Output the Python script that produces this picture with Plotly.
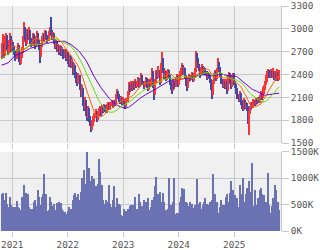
import plotly.graph_objects as go
import pandas as pd

# weekly closes before the visible window (for moving-average warm-up)
prior_close = [2600, 2650, 2620, 2700, 2680, 2720, 2650, 2700, 2750, 2700, 2680, 2720, 2650, 2600, 2620, 2550, 2500, 2480, 2450,
               2200, 2000, 2100, 2150, 2250, 2300,
               2350, 2400, 2450, 2500, 2480, 2550, 2600, 2580, 2550, 2600, 2620, 2580, 2550, 2600,
               2620, 2650, 2600, 2680, 2700, 2650, 2620, 2680, 2700, 2650, 2680, 2720]

open_ = [2660, 2700, 2780, 2650, 2850, 2900, 2760, 2700, 2820, 2880, 2740,
         2800, 2750, 2700, 2620, 2680, 2780, 2600, 2560,
         2640, 2700, 2850, 3000, 2900,
         2820, 2950, 2880, 2980, 2850,
         2800, 2900, 2850, 2780, 2870, 2920, 2830,
         2760, 2650, 2780, 2870,
         2900, 2880, 2950, 2900, 2860, 2930,
         2980, 2950, 2900,
         2920, 2850, 2780, 2820, 2720, 2760,
         2700, 2750, 2680, 2720, 2640, 2700,
         2620, 2680, 2600, 2560, 2620,
         2520, 2550, 2450, 2500, 2400,
         2350, 2300, 2380, 2250, 2150,
         2200, 2050, 1980, 2050, 1900,
         1850, 1950, 1820, 1780, 1700, 1750,
         1800, 1850, 1900, 1820, 1880,
         1920, 1950, 1900, 1960, 1930,
         1980, 1950, 1920, 1980, 2000,
         1960, 2000, 2030, 1990, 2040,
         2010, 2100, 2180, 2120, 2080,
         2050, 2080, 2030, 2060, 2020,
         1980, 2050, 2150, 2250, 2200,
         2260, 2220, 2280, 2240, 2300,
         2260, 2280, 2330, 2250, 2300,
         2380, 2300, 2250, 2280, 2330,
         2260, 2220, 2300, 2270, 2320,
         2430, 2250, 2150, 2300, 2420,
         2380, 2450, 2300, 2500,
         2600, 2450, 2380, 2420, 2350,
         2400, 2440, 2380, 2300, 2250,
         2200, 2300, 2250, 2330, 2380,
         2280, 2350, 2400, 2450, 2520,
         2420, 2470, 2380, 2300, 2240,
         2320, 2380, 2350, 2400, 2330,
         2380, 2450, 2650, 2600, 2520,
         2480, 2400, 2460, 2500, 2430,
         2470, 2420, 2360, 2400, 2380,
         2320, 2250, 2150, 2300,
         2380, 2420, 2350, 2450, 2550,
         2480, 2400, 2320, 2260, 2300,
         2250, 2300, 2200, 2350, 2400,
         2300, 2250, 2350, 2400, 2300,
         2260, 2200, 2120, 2080, 2150,
         2050, 2000, 1950, 2050, 1980,
         2000, 1950, 1720, 1900,
         1960, 2000, 1980, 2050, 2020,
         2060, 2040, 2080, 2050, 2100,
         2130, 2100, 2180, 2220, 2280,
         2330, 2380, 2420, 2380, 2400,
         2380, 2410, 2360, 2390, 2340, 2400, 2340]

close = [2700, 2780, 2650, 2850, 2900, 2760, 2700, 2820, 2880, 2740, 2800,
         2750, 2700, 2620, 2680, 2780, 2600, 2560, 2640,
         2700, 2850, 3000, 2900, 2820,
         2950, 2880, 2980, 2850, 2800,
         2900, 2850, 2780, 2870, 2920, 2830, 2760,
         2650, 2780, 2870, 2900,
         2880, 2950, 2900, 2860, 2930, 2980,
         2950, 2900, 2920,
         2850, 2780, 2820, 2720, 2760, 2700,
         2750, 2680, 2720, 2640, 2700, 2620,
         2680, 2600, 2560, 2620, 2520,
         2550, 2450, 2500, 2400, 2350,
         2300, 2380, 2250, 2150, 2200,
         2050, 1980, 2050, 1900, 1850,
         1950, 1820, 1780, 1700, 1750, 1800,
         1850, 1900, 1820, 1880, 1920,
         1950, 1900, 1960, 1930, 1980,
         1950, 1920, 1980, 2000, 1960,
         2000, 2030, 1990, 2040, 2010,
         2100, 2180, 2120, 2080, 2050,
         2080, 2030, 2060, 2020, 1980,
         2050, 2150, 2250, 2200, 2260,
         2220, 2280, 2240, 2300, 2260,
         2280, 2330, 2250, 2300, 2380,
         2300, 2250, 2280, 2330, 2260,
         2220, 2300, 2270, 2320, 2430,
         2250, 2150, 2300, 2420, 2380,
         2450, 2300, 2500, 2600,
         2450, 2380, 2420, 2350, 2400,
         2440, 2380, 2300, 2250, 2200,
         2300, 2250, 2330, 2380, 2280,
         2350, 2400, 2450, 2520, 2420,
         2470, 2380, 2300, 2240, 2320,
         2380, 2350, 2400, 2330, 2380,
         2450, 2650, 2600, 2520, 2480,
         2400, 2460, 2500, 2430, 2470,
         2420, 2360, 2400, 2380, 2320,
         2250, 2150, 2300, 2380,
         2420, 2350, 2450, 2550, 2480,
         2400, 2320, 2260, 2300, 2250,
         2300, 2200, 2350, 2400, 2300,
         2250, 2350, 2400, 2300, 2260,
         2200, 2120, 2080, 2150, 2050,
         2000, 1950, 2050, 1980, 2000,
         1950, 1800, 1900, 1960,
         2000, 1980, 2050, 2020, 2060,
         2040, 2080, 2050, 2100, 2130,
         2100, 2180, 2220, 2280, 2330,
         2380, 2420, 2380, 2400, 2380,
         2410, 2360, 2390, 2340, 2400, 2340, 2380]

high = [2810, 2930, 2800, 2900, 2950, 2920, 2790, 2860, 2940, 2900, 2850,
        2830, 2780, 2720, 2730, 2820, 2790, 2630, 2700,
        2760, 2900, 3085, 3020, 2930,
        3000, 2990, 3020, 2990, 2880,
        2940, 2930, 2870, 2910, 2970, 2940, 2850,
        2780, 2820, 2900, 2950,
        2930, 2990, 2970, 2920, 2970, 3030,
        3150, 2980, 2960,
        2940, 2870, 2860, 2840, 2800, 2780,
        2790, 2770, 2760, 2740, 2740, 2720,
        2720, 2700, 2640, 2660, 2640,
        2600, 2570, 2550, 2520, 2430,
        2390, 2420, 2400, 2280, 2260,
        2220, 2080, 2100, 2070, 1940,
        1990, 1960, 1850, 1800, 1800, 1850,
        1890, 1950, 1920, 1920, 1960,
        1990, 1970, 2000, 1990, 2010,
        2000, 1970, 2010, 2040, 2020,
        2040, 2060, 2050, 2070, 2060,
        2140, 2210, 2190, 2140, 2100,
        2120, 2100, 2100, 2080, 2040,
        2090, 2190, 2300, 2280, 2310,
        2290, 2320, 2300, 2340, 2320,
        2320, 2370, 2350, 2340, 2420,
        2400, 2320, 2320, 2370, 2350,
        2280, 2340, 2330, 2360, 2490,
        2440, 2270, 2340, 2460, 2450,
        2510, 2460, 2550, 2700,
        2620, 2480, 2460, 2440, 2450,
        2470, 2460, 2400, 2320, 2270,
        2340, 2320, 2370, 2410, 2400,
        2390, 2440, 2490, 2550, 2530,
        2500, 2490, 2400, 2320, 2360,
        2410, 2400, 2430, 2420, 2420,
        2490, 2710, 2680, 2620, 2540,
        2500, 2500, 2540, 2510, 2500,
        2490, 2440, 2430, 2420, 2400,
        2340, 2270, 2330, 2420,
        2460, 2440, 2490, 2620, 2570,
        2500, 2420, 2340, 2340, 2320,
        2340, 2320, 2390, 2430, 2420,
        2320, 2400, 2420, 2420, 2320,
        2280, 2220, 2150, 2190, 2160,
        2070, 2020, 2090, 2070, 2040,
        2030, 1980, 1925, 1990,
        2040, 2030, 2080, 2070, 2090,
        2090, 2110, 2100, 2130, 2180,
        2160, 2230, 2260, 2320, 2400,
        2440, 2470, 2460, 2470, 2440,
        2480, 2450, 2440, 2420, 2470, 2430, 2460]

low = [2610, 2680, 2620, 2640, 2800, 2720, 2650, 2680, 2790, 2700, 2700,
       2700, 2650, 2580, 2600, 2660, 2560, 2530, 2540,
       2620, 2680, 2830, 2860, 2780,
       2800, 2850, 2860, 2800, 2760,
       2780, 2810, 2740, 2760, 2840, 2790, 2720,
       2550, 2630, 2760, 2840,
       2840, 2860, 2870, 2820, 2840, 2900,
       2920, 2860, 2870,
       2800, 2740, 2750, 2690, 2700, 2660,
       2680, 2640, 2650, 2600, 2620, 2580,
       2600, 2540, 2500, 2530, 2480,
       2480, 2400, 2420, 2350, 2290,
       2250, 2270, 2200, 2100, 2100,
       1990, 1920, 1950, 1850, 1790,
       1830, 1780, 1720, 1650, 1670, 1720,
       1770, 1830, 1780, 1800, 1860,
       1890, 1860, 1880, 1900, 1910,
       1910, 1890, 1900, 1960, 1930,
       1940, 1980, 1960, 1970, 1980,
       2000, 2080, 2080, 2040, 2010,
       2030, 2000, 2010, 1990, 1950,
       1970, 2040, 2130, 2170, 2180,
       2180, 2200, 2200, 2220, 2220,
       2230, 2260, 2220, 2230, 2280,
       2260, 2210, 2230, 2260, 2220,
       2180, 2200, 2240, 2250, 2300,
       2220, 2060, 2130, 2280, 2340,
       2360, 2260, 2290, 2480,
       2420, 2340, 2350, 2310, 2330,
       2380, 2340, 2260, 2200, 2140,
       2180, 2210, 2230, 2300, 2240,
       2260, 2330, 2380, 2430, 2390,
       2400, 2340, 2250, 2190, 2220,
       2300, 2320, 2330, 2300, 2310,
       2360, 2430, 2560, 2480, 2440,
       2360, 2380, 2440, 2400, 2410,
       2390, 2330, 2340, 2350, 2290,
       2200, 2080, 2130, 2280,
       2360, 2320, 2340, 2430, 2440,
       2370, 2280, 2220, 2240, 2210,
       2220, 2150, 2180, 2330, 2270,
       2210, 2230, 2320, 2260, 2220,
       2150, 2080, 2040, 2050, 2000,
       1950, 1920, 1930, 1950, 1960,
       1920, 1755, 1605, 1880,
       1940, 1960, 1960, 1990, 2000,
       2010, 2020, 2030, 2030, 2080,
       2070, 2090, 2150, 2200, 2260,
       2300, 2350, 2350, 2360, 2350,
       2360, 2330, 2340, 2310, 2320, 2320, 2330]

volume_k = [700, 720, 450, 600, 720, 520, 440, 450, 650, 500, 450,
            450, 440, 450, 580, 450, 440, 400, 380,
            650, 500, 880, 600, 720,
            560, 700, 450, 410, 420,
            420, 550, 600, 470, 460, 780, 650,
            500, 470, 640, 700,
            1080, 450, 700, 380, 400, 650,
            560, 480, 380,
            520, 410, 390, 540, 420, 560,
            400, 540, 420, 380, 360, 330,
            300, 380, 450, 400, 420,
            350, 600, 680, 720, 560,
            640, 700, 600, 750, 1000,
            880, 1150, 700, 900, 1500,
            750, 1190, 800, 950, 1040, 900,
            980, 850, 780, 900, 1360,
            1130, 780, 880, 600, 520,
            480, 600, 550, 500, 880,
            520, 450, 600, 850, 420,
            450, 620, 480, 520, 500,
            300, 280, 260, 430, 320,
            380, 420, 350, 480, 500,
            420, 500, 450, 650, 400,
            430, 380, 700, 550, 450,
            480, 600, 450, 550, 500,
            620, 400, 350, 450, 600,
            500, 650, 850, 1030, 550,
            700, 740, 550, 480,
            720, 560, 330, 410, 380,
            420, 1000, 350, 500, 450,
            560, 1000, 330, 340, 200,
            350, 560, 650, 820, 520,
            800, 480, 560, 530, 450,
            480, 560, 520, 300, 440,
            500, 460, 980, 520, 450,
            550, 380, 420, 500, 560,
            620, 520, 500, 400, 550,
            400, 600, 1080, 420,
            700, 380, 560, 350, 300,
            450, 600, 500, 500, 300,
            650, 700, 550, 520, 720,
            960, 600, 780, 450, 680,
            500, 620, 450, 870, 620,
            700, 1000, 550, 480, 700,
            820, 700, 960, 750,
            550, 1300, 480, 780, 500,
            450, 620, 480, 780, 820,
            700, 500, 680, 450, 550,
            450, 1100, 500, 350, 480,
            620, 500, 880, 780, 500, 550, 400]

year_tick_index = [10, 62, 114, 166, 218]
year_labels = ["2021", "2022", "2023", "2024", "2025"]
price_ticks = [1500, 1800, 2100, 2400, 2700, 3000, 3300]
vol_ticks = [0, 500, 1000, 1500]
vol_tick_labels = ["0K", "500K", "1000K", "1500K"]
ma_periods = [13, 26, 40]

N = len(close)
idx = list(range(N))

all_close = pd.Series(prior_close + close)
ma_fast, ma_mid, ma_slow = [all_close.rolling(p, min_periods=1).mean().tolist()[-N:] for p in ma_periods]

UP = "#ff3333"
DOWN = "#4048a8"
colors = [UP if c >= o else DOWN for o, c in zip(open_, close)]

fig = go.Figure()
fig.add_trace(go.Bar(x=idx, base=low, y=[h - l for h, l in zip(high, low)],
                     marker=dict(color=colors, line=dict(width=0)), width=0.95,
                     xaxis="x", yaxis="y", hoverinfo="skip"))
fig.add_trace(go.Scatter(x=idx, y=ma_slow, mode="lines", line=dict(color="#6600cc", width=1),
                         xaxis="x", yaxis="y"))
fig.add_trace(go.Scatter(x=idx, y=ma_mid, mode="lines", line=dict(color="#66dd00", width=1),
                         xaxis="x", yaxis="y"))
fig.add_trace(go.Scatter(x=idx, y=ma_fast, mode="lines", line=dict(color="#ff6600", width=1),
                         xaxis="x", yaxis="y"))
fig.add_trace(go.Bar(x=idx, y=volume_k, marker=dict(color="#6a72b3", line=dict(width=0)),
                     width=0.95, xaxis="x2", yaxis="y2", hoverinfo="skip"))

grid = "#c8c8c8"
tickfont = dict(family="DejaVu Sans Mono", size=9.3, color="#555555")
xcommon = dict(range=[-1.5, 261.8], tickmode="array", tickvals=year_tick_index,
               showgrid=True, gridcolor=grid, gridwidth=1, zeroline=False,
               showline=False, ticks="outside", ticklen=5, tickcolor=grid, tickfont=tickfont)

fig.update_layout(
    width=320, height=250,
    margin=dict(l=0, r=39, t=3, b=18),
    paper_bgcolor="white", plot_bgcolor="#f0f0f0",
    showlegend=False, bargap=0,
    xaxis=dict(**xcommon, anchor="y", showticklabels=False, ticktext=year_labels, matches="x2"),
    xaxis2=dict(**xcommon, anchor="y2", ticktext=year_labels),
    yaxis=dict(domain=[0.391, 1], range=[1500, 3300], side="right", tickmode="array",
               tickvals=price_ticks, showgrid=True, gridcolor=grid, zeroline=False,
               showline=True, linecolor=grid, linewidth=1, ticks="outside", ticklen=7,
               tickcolor=grid, tickfont=tickfont),
    yaxis2=dict(domain=[0, 0.352], range=[0, 1500], side="right", tickmode="array",
                tickvals=vol_ticks, ticktext=vol_tick_labels, showgrid=True, gridcolor=grid,
                zeroline=False, showline=True, linecolor=grid, linewidth=1, ticks="outside",
                ticklen=7, tickcolor=grid, tickfont=tickfont),
)

fig.write_html("out.html")
